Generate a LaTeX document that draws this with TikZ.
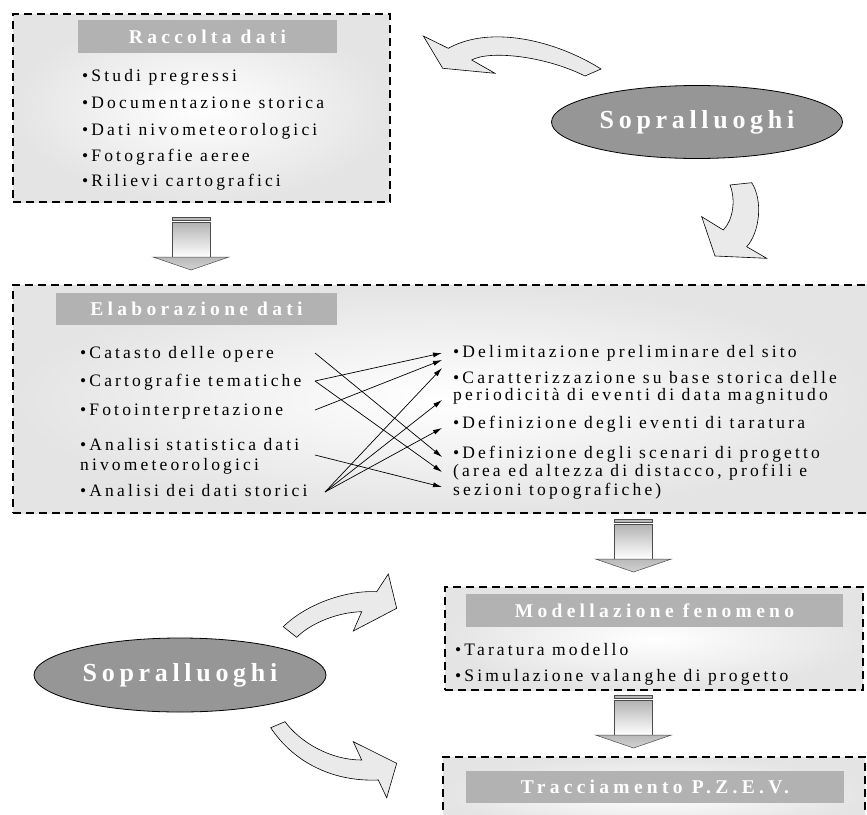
\documentclass[tikz,border=0pt]{standalone}
\usepackage{fontspec}
\setmainfont{Liberation Serif}
\newfontfamily\itemfont[LetterSpace=18]{Liberation Serif}
\newfontfamily\titlefont[LetterSpace=22]{Liberation Serif}
\newfontfamily\ellfont[LetterSpace=18]{Liberation Serif}
\usetikzlibrary{shapes.geometric,arrows.meta}
\definecolor{barfill}{HTML}{B2B2B2}
\definecolor{ellfill}{HTML}{969696}
\definecolor{arrfill}{HTML}{EAEAEA}
\definecolor{boxedge}{HTML}{E4E4E4}
\tikzset{
  dbox/.style={rectangle, draw=black, line width=1.8pt, dash pattern=on 8pt off 5pt, inner color=white, outer color=boxedge, inner sep=0pt},
  tbar/.style={rectangle, fill=barfill, inner sep=0pt, text=white, font=\titlefont\bfseries\fontsize{19.5}{22}\selectfont},
  item/.style={anchor=base west, inner sep=0pt, font=\itemfont\fontsize{17.5}{19}\selectfont},
  sopell/.style={ellipse, draw=black, line width=0.8pt, fill=ellfill, text=white, inner sep=0pt, font=\ellfont\bfseries\fontsize{26}{30}\selectfont},
  curvarr/.style={draw=black, line width=0.6pt, fill=arrfill, line join=miter},
  link/.style={line width=0.7pt, -{Latex[length=9pt,width=5pt]}},
  blockdown/.pic={
    \path[draw=gray!60!black, line width=0.5pt, fill=gray!55] (-19,0) rectangle (19,3);
    \path[draw=gray!60!black, line width=0.5pt, top color=gray!60, bottom color=white] (-19,5) rectangle (19,40);
    \path[draw=gray!60!black, line width=0.5pt, top color=gray!55, bottom color=gray!35] (-38,40) -- (38,40) -- (0,53) -- cycle;
  },
}
\begin{document}
\begin{tikzpicture}[x=1pt,y=-1pt]
\useasboundingbox (0,0) rectangle (867,814);
\fill[white] (0,0) rectangle (867,814);
\clip (0,0) rectangle (867,814);

% boxes
\node[dbox, minimum width=377pt, minimum height=188pt] (b1) at (201.5,108) {};
\node[dbox, minimum width=858pt, minimum height=228pt] (b2) at (442,399) {};
\node[dbox, minimum width=418pt, minimum height=103pt] (b3) at (654,638.5) {};
\node[dbox, minimum width=422pt, minimum height=73pt] (b4) at (654,793.5) {};

% title bars
\node[tbar, minimum width=259pt, minimum height=33pt] (t1) at (207.5,36.5) {Raccolta dati};
\node[tbar, minimum width=281pt, minimum height=32pt] (t2) at (196.5,309) {Elaborazione dati};
\node[tbar, minimum width=377pt, minimum height=33pt] (t3) at (654.5,610.5) {Modellazione fenomeno};
\node[tbar, minimum width=378pt, minimum height=32pt] (t4) at (655,787) {Tracciamento P.Z.E.V.};

% box 1 items
\node[item] (r1) at (82,81.7) {•Studi pregressi};
\node[item] (r2) at (82,108.3) {•Documentazione storica};
\node[item] (r3) at (82,135) {•Dati nivometeorologici};
\node[item] (r4) at (82,161.7) {•Fotografie aeree};
\node[item] (r5) at (82,186.7) {•Rilievi cartografici};

% box 2 left items
\node[item] (l1) at (80,358.3) {•Catasto delle opere};
\node[item] (l2) at (80,386.7) {•Cartografie tematiche};
\node[item] (l3) at (80,415) {•Fotointerpretazione};
\node[item] (l4a) at (80,450) {•Analisi statistica dati};
\node[item] (l4b) at (80,470) {nivometeorologici};
\node[item] (l5) at (80,496) {•Analisi dei dati storici};

% box 2 right items
\node[item] (q1) at (453,357.3) {•Delimitazione preliminare del sito};
\node[item] (q2a) at (453,383) {•Caratterizzazione su base storica delle};
\node[item] (q2b) at (453,400) {periodicità di eventi di data magnitudo};
\node[item] (q3) at (453,428.3) {•Definizione degli eventi di taratura};
\node[item] (q4a) at (453,458.3) {•Definizione degli scenari di progetto};
\node[item] (q4b) at (453,476.7) {(area ed altezza di distacco, profili e};
\node[item] (q4c) at (453,495) {sezioni topografiche)};

% box 3 items
\node[item] (m1) at (455,655) {•Taratura modello};
\node[item] (m2) at (455,681.7) {•Simulazione valanghe di progetto};

% crossing connectors
\coordinate (s1) at (315,353);
\coordinate (s2) at (315,381);
\coordinate (s3) at (315,410);
\coordinate (s4) at (315,455);
\coordinate (s5) at (325,492);
\coordinate (e1) at (442,353);
\coordinate (e2) at (442,360);
\coordinate (e3) at (442,368);
\coordinate (e4) at (442,400);
\coordinate (e5) at (442,428);
\coordinate (e6) at (442,457);
\coordinate (e7) at (442,472);
\coordinate (e8) at (442,487);
\draw[link] (s1) -- (e6);
\draw[link] (s2) -- (e1);
\draw[link] (s2) -- (e7);
\draw[link] (s3) -- (e2);
\draw[link] (s4) -- (e8);
\draw[link] (s5) -- (e3);
\draw[link] (s5) -- (e4);
\draw[link] (s5) -- (e5);

% ellipses
\node[sopell, minimum width=291pt, minimum height=73pt] (sop1) at (697,122) {Sopralluoghi};
\node[sopell, minimum width=292pt, minimum height=74pt] (sop2) at (180,675) {Sopralluoghi};

% curved arrows
\path[curvarr] (448.3,48.3) -- (423.3,36) -- (442.7,68.3) -- (495,73.3) -- (471.7,60)
  .. controls (490,50) and (545,56) .. (585,76) -- (601,69)
  .. controls (555,40) and (490,25) .. (448.3,48.3) -- cycle;
\path[curvarr] (730,185) -- (751.7,182.7) .. controls (763,200) and (760,232) .. (746.7,246.7)
  -- (766.7,258.3) -- (715,256) -- (701.7,216.7) -- (723.3,230)
  .. controls (733,220) and (736,200) .. (730,185) -- cycle;
\path[curvarr] (283.3,626.7) .. controls (305,605) and (345,590) .. (376.7,591.7)
  -- (388.3,574) -- (396.7,608.3) -- (353.3,631) -- (361.7,611.7)
  .. controls (340,612) and (312,622) .. (296.7,637.3) -- cycle;
\path[curvarr] (285,721.7) .. controls (300,742) and (330,760) .. (361.7,760)
  -- (353.3,741.7) -- (396.7,763.3) -- (386.7,797.7) -- (378.3,780)
  .. controls (330,782) and (292,760) .. (270.7,727.7) -- cycle;

% block arrows
\pic at (191,217) {blockdown};
\pic at (633.5,519) {blockdown};
\pic at (633.5,695) {blockdown};
\end{tikzpicture}
\end{document}
